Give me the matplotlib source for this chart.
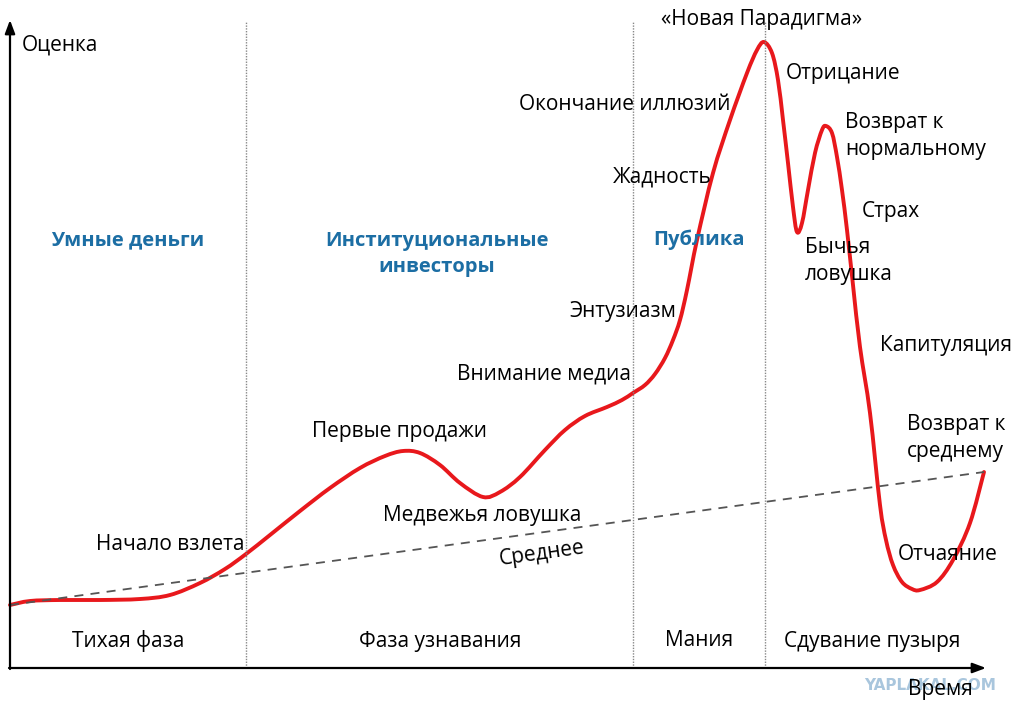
import matplotlib
matplotlib.use("Agg")
import matplotlib.pyplot as plt
from matplotlib.path import Path
from matplotlib.patches import PathPatch

# curve: time vs valuation
time = [0, 20, 50, 90, 130, 160, 190, 215, 236, 260, 290, 320, 350, 375, 393, 410,
        430, 450, 473, 490, 510, 535, 555, 575, 597, 612, 623, 635, 645, 655, 663,
        670, 677, 687, 703, 720, 737, 747, 754, 762, 768, 773, 778, 783, 787, 792,
        798, 805, 812, 816, 822, 827, 832, 837, 843, 850, 860, 870, 876, 883, 892,
        902, 910, 927, 943, 960, 974]
value = [63, 67, 68, 68, 69, 73, 85, 99, 114, 133, 157, 180, 200, 212, 217, 215,
         203, 185, 171, 176, 191, 218, 238, 252, 261, 268, 275, 283, 294, 310, 328,
         348, 378, 428, 495, 548, 595, 618, 626, 615, 588, 548, 505, 461, 436, 445,
         478, 515, 538, 542, 535, 511, 478, 438, 383, 321, 255, 163, 128, 103, 86,
         79, 78, 86, 108, 145, 196]
meanTime = [0, 974]
meanValue = [63, 196]
phaseBounds = [236, 623, 755]

phaseNames = ["Тихая фаза", "Фаза узнавания", "Мания", "Сдувание пузыря"]
groupNames = ["Умные деньги", "Институциональные\nинвесторы", "Публика"]
stageNames = ["«Новая Парадигма»", "Окончание иллюзий", "Отрицание",
              "Возврат к\nнормальному", "Жадность", "Страх", "Бычья\nловушка",
              "Энтузиазм", "Капитуляция", "Внимание медиа", "Первые продажи",
              "Возврат к\nсреднему", "Медвежья ловушка", "Начало взлета", "Отчаяние"]

phasePos = [118, 430, 689, 862]
groupPos = [(118, 428), (427, 414), (689, 428)]
stagePos = [(752, 648, "center"), (509, 564, "left"), (776, 594, "left"),
            (835, 532, "left"), (603, 491, "left"), (852, 457, "left"),
            (795, 407, "left"), (559, 357, "left"), (870, 322, "left"),
            (447, 294, "left"), (302, 237, "left"), (897, 230, "left"),
            (373, 153, "left"), (86, 124, "left"), (888, 114, "left")]

plt.rcParams["font.family"] = ["Open Sans", "DejaVu Sans"]
fs = 15
blue = "#1c6ea4"


def smoothPath(xs, ys):
    # Catmull-Rom through the read points, drawn as cubic Bezier segments
    verts = [(xs[0], ys[0])]
    codes = [Path.MOVETO]
    n = len(xs)
    for i in range(n - 1):
        x0, y0 = (xs[i - 1], ys[i - 1]) if i > 0 else (xs[i], ys[i])
        x1, y1 = xs[i], ys[i]
        x2, y2 = xs[i + 1], ys[i + 1]
        x3, y3 = (xs[i + 2], ys[i + 2]) if i + 2 < n else (x2, y2)
        verts += [(x1 + (x2 - x0) / 6, y1 + (y2 - y0) / 6),
                  (x2 - (x3 - x1) / 6, y2 - (y3 - y1) / 6),
                  (x2, y2)]
        codes += [Path.CURVE4] * 3
    return Path(verts, codes)


fig = plt.figure(figsize=(10.24, 7.14), dpi=100)
ax = fig.add_axes([0, 0, 1, 1])
ax.set_xlim(-10, 1014)
ax.set_ylim(-46, 668)
ax.axis("off")

for b in phaseBounds:
    ax.plot([b, b], [0, 646], color="#888888", linestyle=(0, (1, 1)), linewidth=1)

ax.plot(meanTime, meanValue, color="#555555", linestyle=(0, (5, 4)), linewidth=1.3)
ax.add_patch(PathPatch(smoothPath(time, value), facecolor="none", edgecolor="#e8181c",
                       linewidth=2.8, joinstyle="round", capstyle="round"))

arrow = dict(arrowstyle="-|>,head_length=0.8,head_width=0.3", color="black",
             linewidth=1.6, shrinkA=0, shrinkB=0)
ax.annotate("", xy=(976, 0), xytext=(-1, 0), arrowprops=arrow)
ax.annotate("", xy=(0, 648), xytext=(0, -1), arrowprops=arrow)

ax.text(920, -17, "YAPLAKAL.COM", color="#a9c6dd", fontsize=11, fontweight="bold",
        ha="center", va="center", family="DejaVu Sans")
ax.text(898, -22, "Время", fontsize=fs, ha="left", va="center")
ax.text(12, 623, "Оценка", fontsize=fs, ha="left", va="center")

for name, x in zip(phaseNames, phasePos):
    ax.text(x, 27, name, fontsize=fs, ha="center", va="center")

for name, (x, y) in zip(groupNames, groupPos):
    ax.text(x, y, name, fontsize=fs - 0.5, ha="center", va="center", color=blue,
            fontweight="bold", linespacing=1.45)

for name, (x, y, ha) in zip(stageNames, stagePos):
    ax.text(x, y, name, fontsize=fs, ha=ha, va="center", linespacing=1.4,
            multialignment="left")

ax.text(532, 114, "Среднее", fontsize=fs, ha="center", va="center", rotation=8,
        rotation_mode="anchor")

fig.savefig("out.png", dpi=100)
